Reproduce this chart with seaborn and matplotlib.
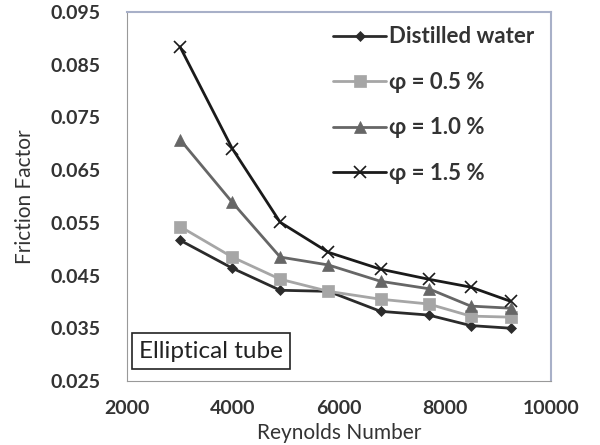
import pandas as pd
import matplotlib.pyplot as plt
import seaborn as sns
from matplotlib.ticker import MultipleLocator

sns.set_style("white")
plt.rcParams['font.family'] = ['Lato', 'DejaVu Sans']

# data
reynolds = [3000, 3985, 4890, 5800, 6785, 7690, 8485, 9240]
distilled = [0.0517, 0.0464, 0.0422, 0.0420, 0.0382, 0.0375, 0.0355, 0.0350]
phi_05 = [0.0543, 0.0485, 0.0443, 0.0420, 0.0405, 0.0396, 0.0373, 0.0371]
phi_10 = [0.0708, 0.0589, 0.0485, 0.0470, 0.0439, 0.0425, 0.0392, 0.0388]
phi_15 = [0.0884, 0.0691, 0.0551, 0.0494, 0.0462, 0.0443, 0.0428, 0.0401]

labels = ["Distilled water", "φ = 0.5 %", "φ = 1.0 %", "φ = 1.5 %"]
series = [distilled, phi_05, phi_10, phi_15]
yticks = [0.025, 0.035, 0.045, 0.055, 0.065, 0.075, 0.085, 0.095]

rows = []
for lab, vals in zip(labels, series):
    for re_, f in zip(reynolds, vals):
        rows.append({"Re": re_, "f": f, "series": lab})
df = pd.DataFrame(rows)

palette = {labels[0]: "#2b2b2b", labels[1]: "#a6a6a6",
           labels[2]: "#666666", labels[3]: "#1a1a1a"}
markers = {labels[0]: "D", labels[1]: "s", labels[2]: "^", labels[3]: "x"}
msizes = {labels[0]: 5, labels[1]: 8, labels[2]: 8, labels[3]: 9}

fig = plt.figure(figsize=(6, 4.45), dpi=100)
ax = fig.add_axes([0.2117, 0.144, 0.7066, 0.829])

for lab in labels:
    sub = df[df["series"] == lab]
    sns.lineplot(data=sub, x="Re", y="f", ax=ax, color=palette[lab],
                 marker=markers[lab], markersize=msizes[lab], linewidth=2,
                 markeredgecolor=palette[lab], markeredgewidth=1.2 if lab == labels[3] else 0.5,
                 label=lab, sort=False)

ax.set_xlim(2000, 10000)
ax.set_ylim(0.025, 0.095)
ax.xaxis.set_major_locator(MultipleLocator(2000))
ax.xaxis.set_minor_locator(MultipleLocator(400))
ax.yaxis.set_minor_locator(MultipleLocator(0.002))
ax.set_yticks(yticks)
ax.set_yticklabels([f"{v:.3f}" for v in yticks])
ax.tick_params(axis="both", which="both", direction="in", length=4, width=0.8,
               color="#888888", labelsize=14, labelcolor="#333333")
ax.tick_params(axis="y", pad=19)
ax.tick_params(axis="x", pad=14)
for t in ax.get_xticklabels() + ax.get_yticklabels():
    t.set_fontweight("bold")

for side in ["left", "bottom"]:
    ax.spines[side].set_color("#999999")
for side in ["top", "right"]:
    ax.spines[side].set_color("#a8b0c8")
    ax.spines[side].set_linewidth(1.5)

ax.set_xlabel("Reynolds Number", fontsize=15, color="#333333")
ax.xaxis.set_label_coords(0.5, -0.115)
ax.set_ylabel("Friction Factor", fontsize=15, color="#333333", labelpad=11)

leg = ax.legend(loc="upper left", frameon=False, fontsize=16, handlelength=2.4,
                labelspacing=1.1, handletextpad=0.12, borderaxespad=0,
                bbox_to_anchor=(0.465, 0.985))
for t in leg.get_texts():
    t.set_color("#333333")
    t.set_fontweight("bold")

ax.text(0.028, 0.081, "Elliptical tube", transform=ax.transAxes, fontsize=17.5,
        color="#222222", va="center", ha="left",
        bbox=dict(boxstyle="square,pad=0.3", facecolor="white",
                  edgecolor="#222222", linewidth=1.2))

plt.savefig("out.png", dpi=100)
plt.close()
